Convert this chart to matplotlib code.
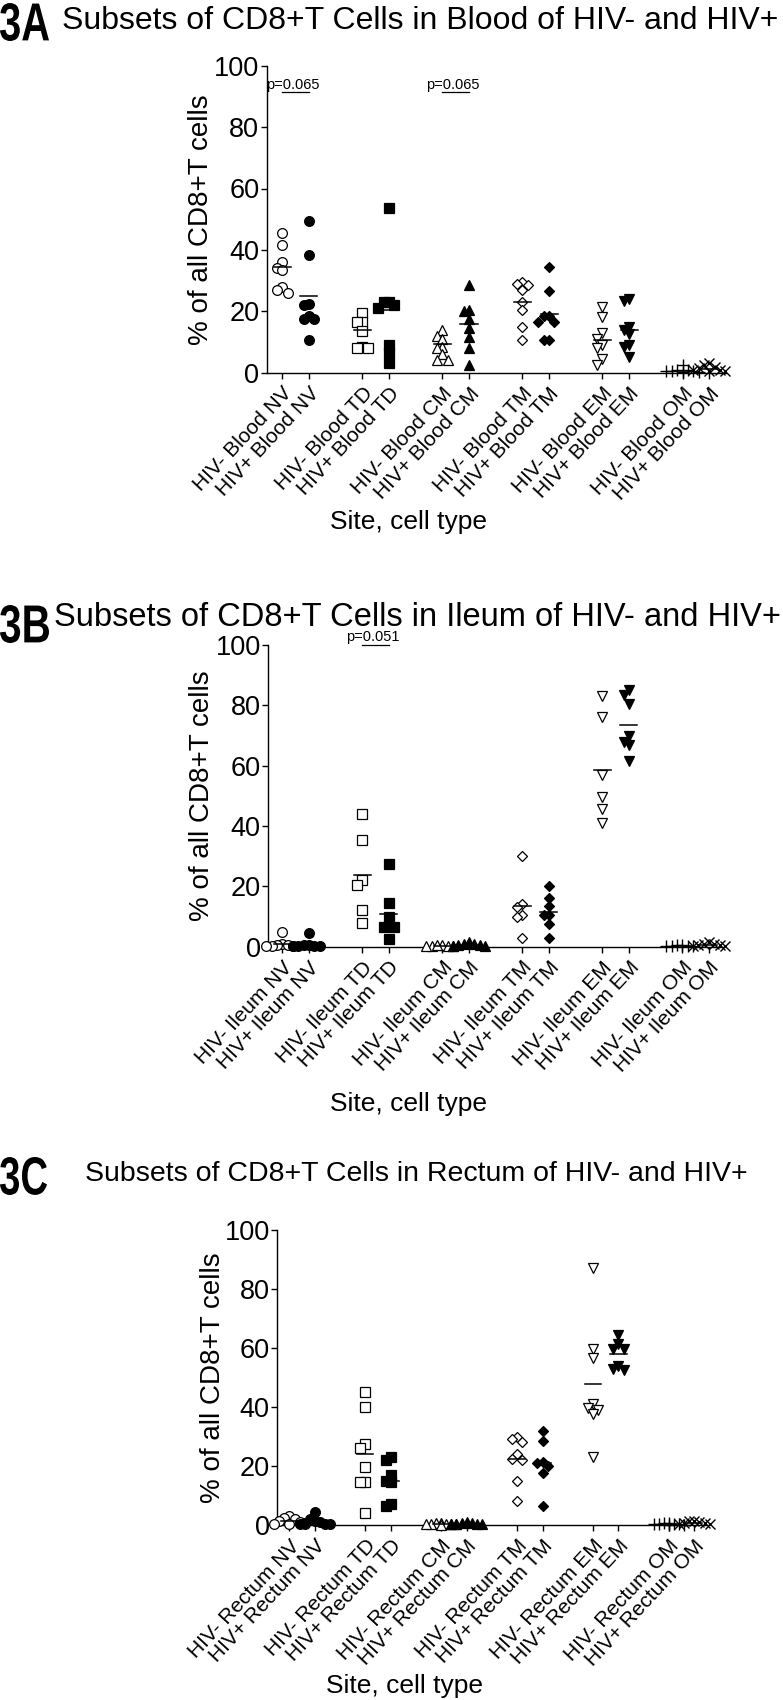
import matplotlib
matplotlib.use("Agg")
import matplotlib.pyplot as plt
import numpy as np
from matplotlib.textpath import TextPath
from matplotlib.patches import PathPatch
from matplotlib.font_manager import FontProperties
from matplotlib.transforms import Affine2D

plt.rcParams['font.family'] = ['Liberation Sans', 'DejaVu Sans']

# cell types, in plotting order (HIV- then HIV+ for each)
cell_types = ['NV', 'TD', 'CM', 'TM', 'EM', 'OM']

# values (% of all CD8+T cells)
blood_vals = [
    [45.5, 41.5, 36, 34, 33.5, 28, 27, 26],
    [49.5, 38.5, 22.5, 22, 18.5, 17.5, 17.5, 10.5],
    [19.5, 16.5, 16.5, 13.5, 8.5, 8, 8],
    [53.5, 23, 23, 22, 21, 9, 6.5, 3],
    [14, 12, 11, 8.5, 8, 6, 4, 4],
    [28.5, 20.5, 20, 17.5, 14.5, 11.5, 8, 2.5],
    [29.5, 29, 28.5, 27, 23, 20.5, 15, 10.5],
    [34.5, 26.5, 18.5, 18.5, 16.5, 16.5, 10.5, 10.5],
    [21.5, 18, 13, 11, 9, 8, 4.5, 2.5],
    [24, 23.5, 15, 14, 12.5, 9, 8.5, 5],
    [2.5, 1, 0.8, 0.5, 0.5, 0.3, 0.2, 0.5],
    [3, 2.5, 2, 1.5, 1, 0.8, 0.5, 0.5],
]
blood_means = [34.3, 25, 14, 20.5, 9.2, 16, 23, 19, 10.8, 14, 0.7, 1.2]

ileum_vals = [
    [4.8, 0.9, 0.6, 0.4, 0.3, 0.2, 0.1],
    [4.7, 0.5, 0.4, 0.3, 0.2, 0.2, 0.1],
    [44, 35.5, 22, 20.5, 12, 8],
    [27.5, 14.5, 10, 7, 6.5, 6.5, 2.5],
    [0.5, 0.3, 0.2, 0.4, 0.1, 0.2],
    [1.5, 1, 0.8, 0.6, 0.5, 0.3, 0.2],
    [30, 14, 13, 10.5, 10, 3],
    [20, 16, 13.5, 10.5, 10.5, 7.5, 3],
    [83, 76, 57, 49.5, 45.5, 41],
    [85, 83.5, 80.5, 70, 68, 67, 61.5],
    [0.5, 0.4, 0.3, 0.2, 0.2, 0.1],
    [1.5, 1, 0.8, 0.6, 0.5, 0.3, 0.2],
]
ileum_means = [0.8, 0.8, 23.6, 10.8, 0.3, 0.6, 13.6, 11.4, 58.6, 73.5, 0.3, 0.6]

rectum_vals = [
    [3, 2.5, 2, 1.5, 1, 0.5, 0.3, 0.2],
    [4.3, 2, 1.5, 1, 0.8, 0.5, 0.3, 0.2],
    [45, 40, 27.5, 26, 19.5, 14.5, 14.5, 4],
    [23, 22, 17, 15, 14.5, 7, 6.5],
    [0.8, 0.6, 0.5, 0.4, 0.3, 0.3, 0.2, 0.1],
    [1, 0.8, 0.7, 0.5, 0.4, 0.3, 0.2],
    [30, 29, 28, 24, 22.5, 22, 15, 8],
    [32, 28.5, 21.5, 21, 20, 17.5, 6.5],
    [87, 59.5, 56.5, 41, 39.5, 39, 37.5, 23],
    [64.5, 61.5, 59.5, 59.5, 54, 53, 52.5],
    [0.8, 0.6, 0.4, 0.3, 0.2, 0.2, 0.1, 0.1],
    [1.5, 1.2, 1, 0.8, 0.6, 0.5, 0.3],
]
rectum_means = [1.2, 1.3, 24, 14.9, 0.4, 0.5, 22.5, 20.9, 47.7, 57.9, 0.4, 0.8]

# p-values: (pair index, text)
blood_p = [(0, 'p=0.065'), (2, 'p=0.065')]
ileum_p = [(1, 'p=0.051')]
rectum_p = []

markers = ['o', 's', '^', 'D', 'v', '+']
msizes = {'o': 7, 's': 6.5, '^': 7.5, 'D': 5.5, 'v': 7.5, '+': 8, 'x': 6.5}

H = 1700.0
W = 783.0


def spread(vals, ystep, xstep):
    # simple prism-like horizontal scatter for overlapping points
    vals = np.asarray(vals, float)
    order = np.argsort(-vals, kind='stable')
    offs = np.zeros(len(vals))
    placed = []
    slots = [0, -1, 1, -2, 2, -3, 3]
    for i in order:
        best, best_n = 0, 1e9
        for k in slots:
            n = sum(1 for j in placed if abs(vals[i] - vals[j]) < ystep and offs[j] == k * xstep)
            if n == 0:
                best = k
                break
            if n < best_n:
                best, best_n = k, n
        offs[i] = best * xstep
        placed.append(i)
    return offs


def draw_panel(ax, site, vals, means, pvals, xlim, ylab_x=-0.12, p_line=91.3):
    pos = []
    labels = []
    for g, ct in enumerate(cell_types):
        for h, tag in enumerate(['HIV-', 'HIV+']):
            pos.append(3 * g + h)
            labels.append(f'{tag} {site} {ct}')
    for i, v in enumerate(vals):
        g, h = divmod(i, 2)
        m = markers[g]
        if g == 5 and h == 1:
            m = 'x'
        x = pos[i] + spread(v, 2.5, 0.2)
        if m in ('+', 'x'):
            ax.plot(x, v, ls='none', marker=m, ms=msizes[m], mew=1.0, color='black', clip_on=False, zorder=3)
        else:
            ax.plot(x, v, ls='none', marker=m, ms=msizes[m], mew=0.9,
                    mec='black', mfc='white' if h == 0 else 'black', clip_on=False, zorder=3)
        ax.plot([pos[i] - 0.32, pos[i] + 0.32], [means[i], means[i]], color='black', lw=1.1,
                clip_on=False, zorder=4)

    for g, txt in pvals:
        x0, x1 = pos[2 * g], pos[2 * g + 1]
        ax.plot([x0, x1], [p_line, p_line], color='black', lw=0.9, clip_on=False)
        ax.text((x0 + x1) / 2 - 0.1, p_line + 0.2, txt, ha='center', va='bottom', fontsize=10.5)

    ax.set_xlim(*xlim)
    ax.set_ylim(0, 100)
    ax.set_yticks([0, 20, 40, 60, 80, 100])
    ax.set_xticks(pos)
    ax.set_xticklabels(labels, rotation=47, ha='right', rotation_mode='anchor', fontsize=15)
    ax.tick_params(axis='y', labelsize=19.5, length=4, width=1, pad=1.5)
    ax.tick_params(axis='x', length=4, width=1, pad=4)
    for s in ['top', 'right']:
        ax.spines[s].set_visible(False)
    for s in ['left', 'bottom']:
        ax.spines[s].set_linewidth(1)
    ax.set_ylabel('% of all CD8+T cells', fontsize=20)
    ax.yaxis.set_label_coords(ylab_x, 0.5)


def panel_letter(fig, s, x_px, top_px, w_px=49, h_px=38):
    # condensed bold letter: bold glyph path squeezed horizontally
    tp = TextPath((0, 0), s, size=40, prop=FontProperties(family='Liberation Sans', weight='bold'))
    bb = tp.get_extents()
    tr = (Affine2D().translate(-bb.x0, -bb.y0)
          .scale(w_px / bb.width, h_px / bb.height)
          .translate(x_px, H - top_px - h_px))
    fig.add_artist(PathPatch(tp, transform=tr, facecolor='black', edgecolor='none'))


fig = plt.figure(figsize=(7.83, 17), dpi=100)

ax_a = fig.add_axes([267 / W, 1 - 372.7 / H, (726 - 267) / W, 307 / H])
draw_panel(ax_a, 'Blood', blood_vals, blood_means, blood_p, (-0.57, 16.63), ylab_x=-0.115)

ax_b = fig.add_axes([268.3 / W, 1 - 946.7 / H, (723.3 - 268.3) / W, 301.7 / H])
draw_panel(ax_b, 'Ileum', ileum_vals, ileum_means, ileum_p, (-0.525, 16.54), ylab_x=-0.118, p_line=100)

ax_c = fig.add_axes([277.3 / W, 1 - 1525 / H, (708.3 - 277.3) / W, 295 / H])
draw_panel(ax_c, 'Rectum', rectum_vals, rectum_means, rectum_p, (-0.48, 16.55), ylab_x=-0.118)

# x axis titles
fig.text(409 / W, 1 - 522 / H, 'Site, cell type', ha='center', va='center', fontsize=19)
fig.text(409 / W, 1 - 1104 / H, 'Site, cell type', ha='center', va='center', fontsize=19)
fig.text(405 / W, 1 - 1686 / H, 'Site, cell type', ha='center', va='center', fontsize=19)

# panel letters and titles
panel_letter(fig, '3A', 0, 3)
fig.text(62 / W, 1 - 21 / H, 'Subsets of CD8+T Cells in Blood of HIV- and HIV+', ha='left', va='center', fontsize=23)
panel_letter(fig, '3B', 0, 605)
fig.text(54 / W, 1 - 618 / H, 'Subsets of CD8+T Cells in Ileum of HIV- and HIV+', ha='left', va='center', fontsize=23.5)
panel_letter(fig, '3C', 0, 1157, w_px=47)
fig.text(85 / W, 1 - 1174 / H, 'Subsets of CD8+T Cells in Rectum of HIV- and HIV+', ha='left', va='center', fontsize=20.5)

fig.savefig('out.png', dpi=100)
